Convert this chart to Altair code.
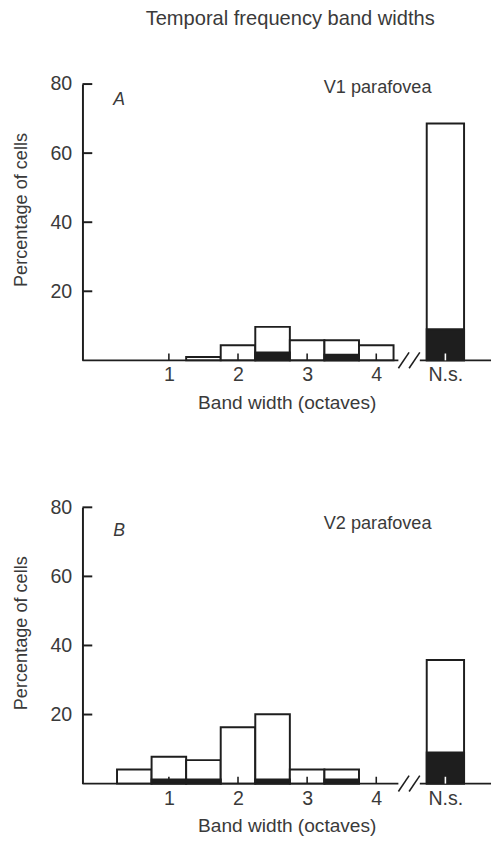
import altair as alt
import pandas as pd

TITLE = "Temporal frequency band widths"
Y_TITLE = "Percentage of cells"
X_TITLE = "Band width (octaves)"

tick_pos = [1, 2, 3, 4, 5]
tick_lab = ["1", "2", "3", "4", "N.s."]
y_ticks = [20, 40, 60, 80]

a_centers = [1.5, 2.0, 2.5, 3.0, 3.5, 4.0]
a_total = [1.0, 4.4, 9.7, 5.8, 5.8, 4.4]
a_black = [0.0, 0.0, 2.3, 0.0, 1.6, 0.0]
a_ns_total = 68.6
a_ns_black = 9.0

b_centers = [0.5, 1.0, 1.5, 2.0, 2.5, 3.0, 3.5]
b_total = [4.1, 7.8, 6.8, 16.3, 20.1, 4.1, 4.1]
b_black = [0.0, 1.2, 1.2, 0.0, 1.2, 0.0, 1.2]
b_ns_total = 35.8
b_ns_black = 9.0

ns_pos = 5.0
bin_w = 0.5
ns_w = 0.54
break_lo, break_hi = 4.32, 4.63
x_dom = [-0.25, 5.66]
y_dom = [0, 80]

INK = "#1e1e1e"
TXT = "#3a3a3a"
FONT = "Liberation Sans"
W, H = 417, 282

label_map = " : ".join(
    [f"datum.value == {p} ? '{l}'" for p, l in zip(tick_pos, tick_lab)]
) + " : ''"

XS = alt.Scale(domain=x_dom, nice=False, zero=False)
YS = alt.Scale(domain=y_dom, nice=False, zero=False)
X_AXIS = alt.Axis(values=tick_pos, labelExpr=label_map, ticks=False, domain=False,
                  grid=False, labelPadding=5, labelFontSize=20, labelColor=TXT,
                  labelFont=FONT, title=X_TITLE, titleFontSize=19.5, titleColor=TXT,
                  titleFont=FONT, titleFontWeight="normal", titlePadding=9)
Y_AXIS = alt.Axis(values=y_ticks, ticks=False, domain=True, domainColor=INK,
                  domainWidth=2, grid=False, labelPadding=11, labelFontSize=20,
                  labelColor=TXT, labelFont=FONT, title=Y_TITLE, titleFontSize=18.5,
                  titleColor=TXT, titleFont=FONT, titleFontWeight="normal",
                  titlePadding=20, titleY=128)


def panel(centers, total, black, ns_total, ns_black, letter, letter_y, region, region_y,
          title=None):
    x0 = [c - bin_w / 2 for c in centers] + [ns_pos - ns_w / 2]
    x1 = [c + bin_w / 2 for c in centers] + [ns_pos + ns_w / 2]
    bars = pd.DataFrame({"x0": x0, "x1": x1, "total": total + [ns_total],
                         "black": black + [ns_black], "zero": 0.0})
    x = alt.X("x0:Q", scale=XS, axis=X_AXIS)
    y = alt.Y("total:Q", scale=YS, axis=Y_AXIS)
    white = alt.Chart(bars).mark_rect(fill="white", stroke=INK, strokeWidth=2).encode(
        x=x, x2="x1:Q", y=y, y2="zero:Q")
    dark = alt.Chart(bars).transform_filter("datum.black > 0").mark_rect(
        fill=INK, stroke=INK, strokeWidth=2).encode(
        x=x, x2="x1:Q", y=alt.Y("black:Q", scale=YS, axis=Y_AXIS), y2="zero:Q")

    seg = pd.DataFrame({"a": [x_dom[0], break_hi], "b": [break_lo, x_dom[1]], "y": 0.0})
    baseline = alt.Chart(seg).mark_rule(color=INK, strokeWidth=2).encode(
        x=alt.X("a:Q", scale=XS, axis=X_AXIS), x2="b:Q",
        y=alt.Y("y:Q", scale=YS, axis=Y_AXIS))

    mid = (break_lo + break_hi) / 2
    sl = pd.DataFrame({"a": [break_lo, mid], "b": [mid, break_hi],
                       "ya": [-2.3, -2.3], "yb": [2.3, 2.3]})
    slashes = alt.Chart(sl).mark_rule(color=INK, strokeWidth=1.6).encode(
        x=alt.X("a:Q", scale=XS, axis=X_AXIS), x2="b:Q",
        y=alt.Y("ya:Q", scale=YS, axis=Y_AXIS), y2="yb:Q")

    yt = pd.DataFrame({"v": y_ticks})
    yticks = alt.Chart(yt).mark_rule(color=INK, strokeWidth=2).encode(
        x=alt.value(0), x2=alt.value(10), y=alt.Y("v:Q", scale=YS, axis=Y_AXIS))

    xt = pd.DataFrame({"v": tick_pos, "c": [INK, INK, INK, INK, "white"]})
    xticks = alt.Chart(xt).mark_rule(strokeWidth=1.6).encode(
        x=alt.X("v:Q", scale=XS, axis=X_AXIS), y=alt.value(H), y2=alt.value(H - 7),
        color=alt.Color("c:N", scale=None))

    lab = pd.DataFrame({"x": [0.28], "y": [letter_y], "t": [letter]})
    letter_t = alt.Chart(lab).mark_text(font=FONT, fontSize=18, fontStyle="italic",
                                        color=TXT, align="center", baseline="middle").encode(
        x=alt.X("x:Q", scale=XS, axis=X_AXIS), y=alt.Y("y:Q", scale=YS, axis=Y_AXIS),
        text="t:N")
    reg = pd.DataFrame({"x": [4.02], "y": [region_y], "t": [region]})
    region_t = alt.Chart(reg).mark_text(font=FONT, fontSize=18.5, color=TXT,
                                        align="center", baseline="middle").encode(
        x=alt.X("x:Q", scale=XS, axis=X_AXIS), y=alt.Y("y:Q", scale=YS, axis=Y_AXIS),
        text="t:N")

    layers = [white, dark, baseline, slashes, yticks, xticks, letter_t, region_t]
    if title:
        tt = pd.DataFrame({"t": [title]})
        layers.append(alt.Chart(tt).mark_text(
            font=FONT, fontSize=20.5, color=TXT, align="center", baseline="middle").encode(
            x=alt.value(212), y=alt.value(-66), text="t:N"))
    return alt.layer(*layers).properties(width=W, height=H)


pa = panel(a_centers, a_total, a_black, a_ns_total, a_ns_black, "A", 75.5,
           "V1 parafovea", 79.0, title=TITLE)
pb = panel(b_centers, b_total, b_black, b_ns_total, b_ns_black, "B", 73.0,
           "V2 parafovea", 75.5)

chart = alt.vconcat(pa, pb, spacing=87).properties(
    padding={"left": 3, "right": 0, "top": -7, "bottom": 0},
).configure_view(stroke=None)

chart.save("out.html", embed_options={"renderer": "svg", "actions": False})
